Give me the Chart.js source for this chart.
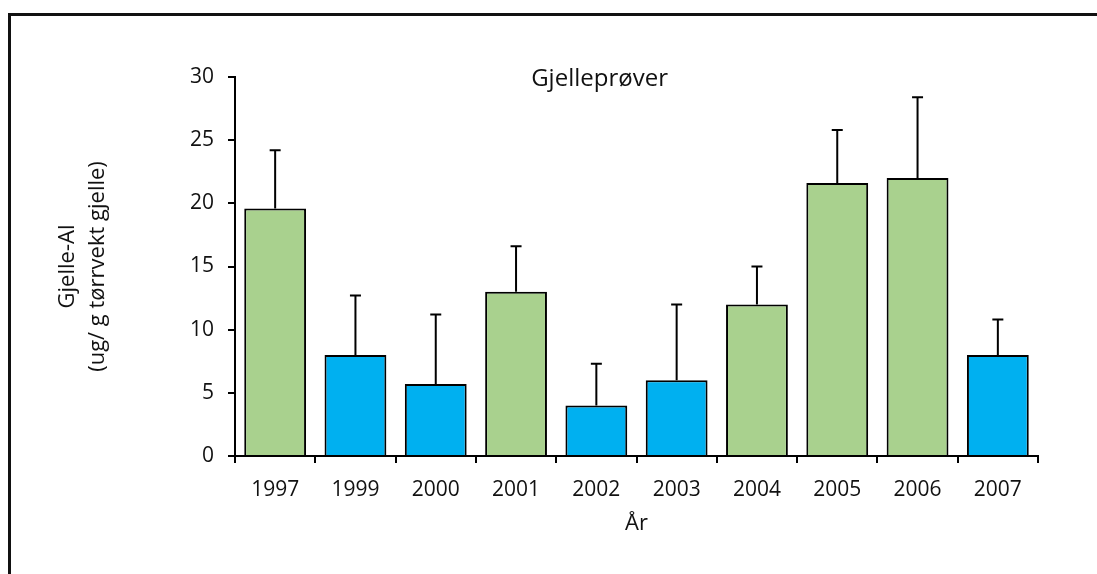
<!DOCTYPE html>
<html>
<head>
<meta charset="utf-8">
<script src="https://cdn.jsdelivr.net/npm/chart.js@4"></script>
<style>
  body { margin: 0; background: #fff; }
  #wrap { position: relative; width: 1097px; height: 574px; }
  #frame {
    position: absolute; left: 8px; top: 13px; right: 0; bottom: 0;
    border-top: 3px solid #111; border-left: 3px solid #111;
    pointer-events: none;
  }
</style>
</head>
<body>
<div id="wrap">
  <canvas id="chart" width="1097" height="574"></canvas>
  <div id="frame"></div>
</div>
<script>
const years = ['1997', '1999', '2000', '2001', '2002', '2003', '2004', '2005', '2006', '2007'];
const gillAl = [19.6, 8.0, 5.7, 13.0, 4.0, 6.0, 12.0, 21.6, 22.0, 8.0];
const gillAlErr = [4.6, 4.7, 5.5, 3.6, 3.3, 6.0, 3.0, 4.2, 6.4, 2.8];
const barGroup = ['g', 'b', 'b', 'g', 'b', 'b', 'g', 'g', 'g', 'b'];

const GREEN = '#a9d18e';
const BLUE = '#00b0f0';
const FONT = "'Open Sans', 'DejaVu Sans', sans-serif";

// upper error bars with a small cap
const errorBars = {
  id: 'errorBars',
  afterDatasetsDraw(chart) {
    const ctx = chart.ctx;
    const yScale = chart.scales.y;
    const meta = chart.getDatasetMeta(0);
    ctx.save();
    ctx.strokeStyle = '#000';
    ctx.lineWidth = 2;
    meta.data.forEach((bar, i) => {
      const top = yScale.getPixelForValue(gillAl[i]);
      const hi = yScale.getPixelForValue(gillAl[i] + gillAlErr[i]);
      ctx.beginPath();
      ctx.moveTo(bar.x, top);
      ctx.lineTo(bar.x, hi);
      ctx.moveTo(bar.x - 5.5, hi);
      ctx.lineTo(bar.x + 5.5, hi);
      ctx.stroke();
    });
    ctx.restore();
  },
};

// title sits inside the plot area
const innerTitle = {
  id: 'innerTitle',
  afterDraw(chart) {
    const { ctx, chartArea } = chart;
    ctx.save();
    ctx.fillStyle = '#111';
    ctx.font = '24px ' + FONT;
    ctx.textAlign = 'center';
    ctx.textBaseline = 'middle';
    ctx.fillText('Gjelleprøver', chartArea.left + chartArea.width * 0.454, chartArea.top + 2);
    ctx.restore();
  },
};

new Chart(document.getElementById('chart'), {
  type: 'bar',
  data: {
    labels: years,
    datasets: [
      {
        data: gillAl,
        backgroundColor: barGroup.map((g) => (g === 'g' ? GREEN : BLUE)),
        borderColor: '#000',
        borderWidth: 2,
        borderSkipped: 'bottom',
        barPercentage: 0.77,
        categoryPercentage: 1,
      },
    ],
  },
  options: {
    responsive: false,
    animation: false,
    layout: { padding: { left: 0, right: 59, top: 77, bottom: 0 } },
    plugins: {
      legend: { display: false },
      tooltip: { enabled: false },
    },
    scales: {
      x: {
        afterFit: (scale) => { scale.height = 118; },
        grid: {
          offset: true,
          drawOnChartArea: false,
          color: '#000',
          lineWidth: 2,
          tickLength: 7,
        },
        border: { color: '#000', width: 2 },
        ticks: { color: '#111', font: { family: FONT, size: 21 }, padding: 14 },
        title: {
          display: true,
          text: 'År',
          color: '#111',
          font: { family: FONT, size: 22 },
          padding: { top: 0, bottom: 37 },
        },
      },
      y: {
        min: 0,
        max: 30,
        afterFit: (scale) => { scale.width = 235; },
        grid: {
          drawOnChartArea: false,
          color: '#000',
          lineWidth: 2,
          tickLength: 7,
        },
        border: { color: '#000', width: 2 },
        ticks: { stepSize: 5, color: '#111', font: { family: FONT, size: 21 }, padding: 14 },
        title: {
          display: true,
          text: ['Gjelle-Al', '(ug/ g tørrvekt gjelle)'],
          color: '#111',
          font: { family: FONT, size: 22, lineHeight: 1.35 },
          padding: { top: 53, bottom: 0 },
        },
      },
    },
  },
  plugins: [errorBars, innerTitle],
});
</script>
</body>
</html>
